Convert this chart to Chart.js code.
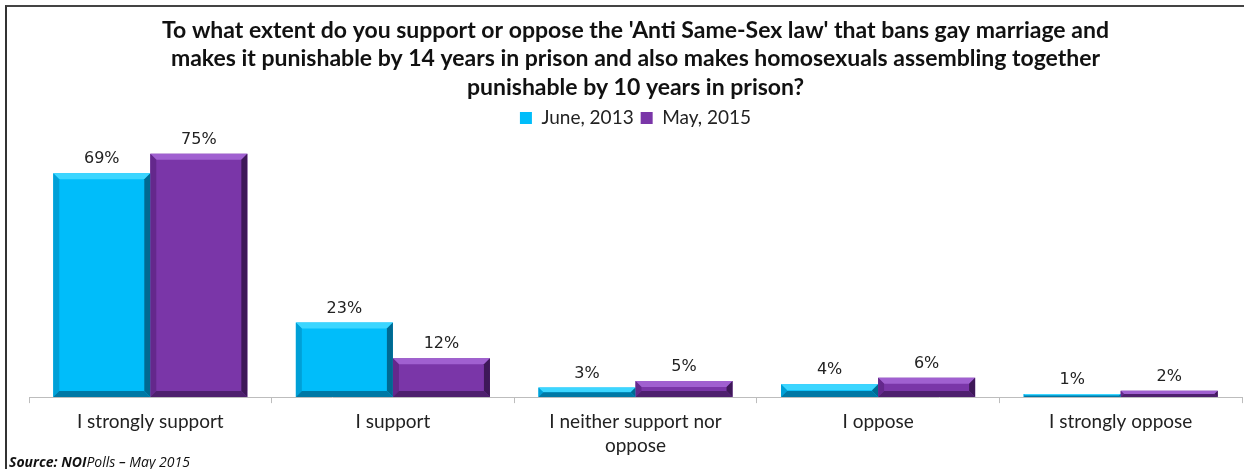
<!DOCTYPE html>
<html>
<head>
<meta charset="utf-8">
<script src="https://cdn.jsdelivr.net/npm/chart.js@4.4.0/dist/chart.umd.min.js"></script>
<style>
  html, body { margin: 0; padding: 0; background: #fff; }
  #wrap { position: relative; width: 1244px; height: 469px; }
  #frame { position: absolute; left: 5px; top: 5px; right: 0; bottom: 0;
           border-left: 2px solid #333; border-top: 2px solid #444; pointer-events: none; }
  #source { position: absolute; left: 9px; top: 452px; font-family: "Open Sans", sans-serif;
            font-size: 14px; font-style: italic; color: #111; }
</style>
</head>
<body>
<div id="wrap">
  <canvas id="chart" width="1244" height="469"></canvas>
  <div id="frame"></div>
  <div id="source"><b>Source: NOI</b>Polls – May 2015</div>
</div>
<script>
// chart values
const categories = [
    'I strongly support',
    'I support',
    ['I neither support nor', 'oppose'],
    'I oppose',
    'I strongly oppose'
];
const june2013 = [69, 23, 3, 4, 1];
const may2015 = [75, 12, 5, 6, 2];
const seriesNames = ['June, 2013', 'May, 2015'];
const titleLines = [
    "To what extent do you support or oppose the 'Anti Same-Sex law' that bans gay marriage and",
    "makes it punishable by 14 years in prison and also makes homosexuals assembling together",
    "punishable by 10 years in prison?"
];

// bevel shades for each series: face, top, left, right, bottom
const shades = [
    { face: 'rgb(0,189,250)', top: 'rgb(60,214,255)', left: 'rgb(0,160,215)', right: 'rgb(0,105,145)', bottom: 'rgb(0,120,165)' },
    { face: 'rgb(122,54,168)', top: 'rgb(160,96,208)', left: 'rgb(100,40,140)', right: 'rgb(62,24,88)', bottom: 'rgb(78,32,110)' }
];

const bevelPlugin = {
    id: 'bevel',
    afterDatasetsDraw(chart) {
        const ctx = chart.ctx;
        chart.data.datasets.forEach(function (ds, di) {
            const sh = shades[di];
            chart.getDatasetMeta(di).data.forEach(function (bar) {
                const l = bar.x - bar.width / 2, r = bar.x + bar.width / 2;
                const t = bar.y, b = bar.base;
                const h = b - t;
                const e = Math.min(6, h / 2);
                ctx.save();
                function poly(pts, col) {
                    ctx.beginPath();
                    ctx.moveTo(pts[0][0], pts[0][1]);
                    for (let i = 1; i < pts.length; i++) ctx.lineTo(pts[i][0], pts[i][1]);
                    ctx.closePath();
                    ctx.fillStyle = col;
                    ctx.fill();
                }
                poly([[l, t], [r, t], [r - e, t + e], [l + e, t + e]], sh.top);
                poly([[l, t], [l + e, t + e], [l + e, b - e], [l, b]], sh.left);
                poly([[r, t], [r, b], [r - e, b - e], [r - e, t + e]], sh.right);
                poly([[l, b], [l + e, b - e], [r - e, b - e], [r, b]], sh.bottom);
                ctx.restore();
            });
        });
    }
};

const valueLabels = {
    id: 'valueLabels',
    afterDatasetsDraw(chart) {
        const ctx = chart.ctx;
        ctx.save();
        ctx.font = '16px "DejaVu Sans"';
        ctx.fillStyle = '#222';
        ctx.textAlign = 'center';
        ctx.textBaseline = 'bottom';
        chart.data.datasets.forEach(function (ds, di) {
            chart.getDatasetMeta(di).data.forEach(function (bar, i) {
                ctx.fillText(ds.data[i] + '%', bar.x, bar.y - 6);
            });
        });
        ctx.restore();
    }
};

new Chart(document.getElementById('chart'), {
    type: 'bar',
    data: {
        labels: categories,
        datasets: [
            { label: seriesNames[0], data: june2013, backgroundColor: shades[0].face, borderWidth: 0 },
            { label: seriesNames[1], data: may2015, backgroundColor: shades[1].face, borderWidth: 0 }
        ]
    },
    options: {
        responsive: false,
        animation: false,
        layout: { padding: { left: 29, right: 2, top: 0, bottom: 4 } },
        categoryPercentage: 0.8,
        barPercentage: 1.0,
        scales: {
            x: {
                grid: { display: true, drawOnChartArea: false, drawTicks: true, tickLength: 6, color: '#bdbdbd', offset: true },
                border: { display: true, color: '#bdbdbd' },
                ticks: { color: '#222', padding: 7, maxRotation: 0, font: { family: 'Lato', size: 19, lineHeight: 1.26 } }
            },
            y: { display: false, min: 0, max: 80 }
        },
        plugins: {
            title: {
                display: true,
                text: titleLines,
                color: '#111',
                font: { family: 'Lato', size: 23, weight: 'bold', lineHeight: 1.24 },
                padding: { top: 16, bottom: 0 }
            },
            legend: {
                display: true,
                labels: { boxWidth: 12, boxHeight: 12, color: '#222', padding: 7, font: { family: 'Lato', size: 19 } }
            },
            tooltip: { enabled: false }
        }
    },
    plugins: [bevelPlugin, valueLabels]
});
</script>
</body>
</html>
